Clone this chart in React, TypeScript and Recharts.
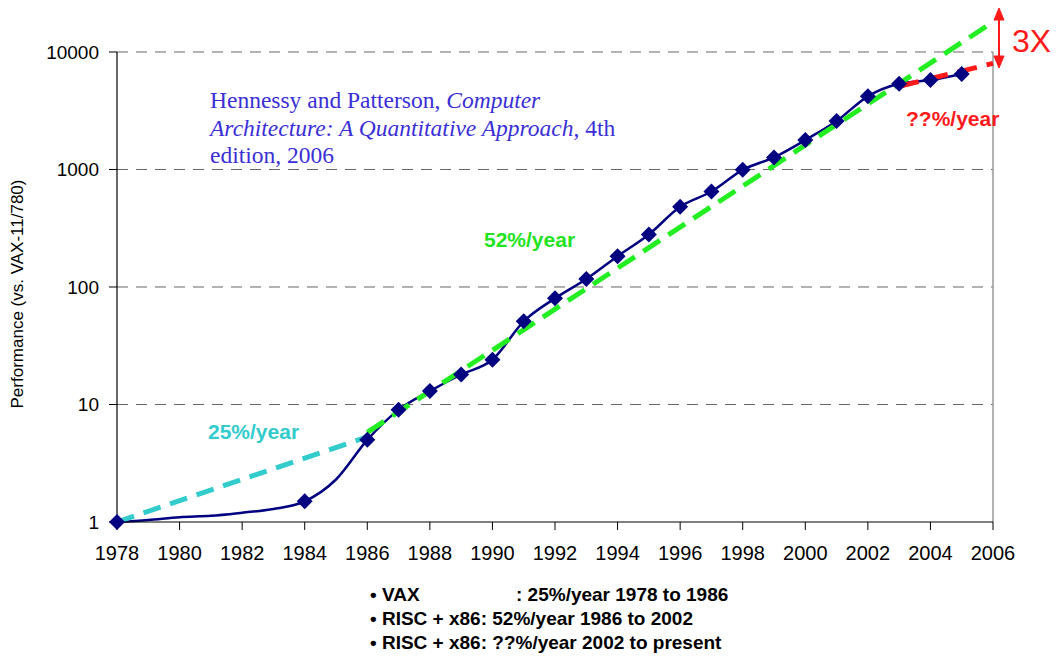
import React from "react";
import {
  LineChart,
  Line,
  XAxis,
  YAxis,
  ReferenceLine
} from "recharts";

// measured performance relative to VAX-11/780
const years = [
  1978, 1979, 1980, 1981, 1982, 1983, 1984, 1985, 1986, 1987, 1988, 1989, 1990, 1991,
  1992, 1993, 1994, 1995, 1996, 1997, 1998, 1999, 2000, 2001, 2002, 2003, 2004, 2005
];
const perf = [
  1, 1.04, 1.1, 1.13, 1.2, 1.29, 1.5, 2.3, 5, 9, 13, 18, 24, 51,
  80, 117, 183, 280, 481, 649, 993, 1267, 1779, 2584, 4195, 5364, 5764, 6505
];
// years that get a diamond marker
const markedYears = [
  1978, 1984, 1986, 1987, 1988, 1989, 1990, 1991, 1992, 1993, 1994, 1995, 1996, 1997,
  1998, 1999, 2000, 2001, 2002, 2003, 2004, 2005
];

// trend lines
const vaxTrend = [
  { year: 1978, v: 1 },
  { year: 1986, v: 5.3 }
];
const riscTrend = [
  { year: 1986, v: 5.8 },
  { year: 2006, v: 18000 }
];
const recentTrend = [
  { year: 2003, v: 5100 },
  { year: 2006, v: 8000 }
];

const xTicks = [1978, 1980, 1982, 1984, 1986, 1988, 1990, 1992, 1994, 1996, 1998, 2000, 2002, 2004, 2006];
const yTicks = [1, 10, 100, 1000, 10000];
const gridValues = [10, 100, 1000, 10000];

const bullets = [
  "• RISC + x86: 52%/year 1986 to 2002",
  "• RISC + x86: ??%/year 2002 to present"
];

const data = years.map((y, i) => ({ year: y, perf: perf[i], mark: markedYears.includes(y) }));

const FONT = "'Liberation Sans', Arial, sans-serif";

const Diamond = (props: any) => {
  const { cx, cy, payload, index } = props;
  if (!payload || !payload.mark) return <g key={"d" + index} />;
  const r = 8;
  return (
    <path
      key={"d" + index}
      d={`M${cx},${cy - r}L${cx + r},${cy}L${cx},${cy + r}L${cx - r},${cy}Z`}
      fill="#000080"
    />
  );
};

export default function App() {
  return (
    <div style={{ position: "absolute", left: 0, top: 0, width: 1056, height: 657, background: "#fff" }}>
      <LineChart
        width={1056}
        height={657}
        data={data}
        margin={{ top: 10, right: 63, bottom: 95, left: 47 }}
      >
        <XAxis
          dataKey="year"
          type="number"
          domain={[1978, 2006]}
          ticks={xTicks}
          height={40}
          tickSize={8}
          tickMargin={16}
          axisLine={{ stroke: "#000" }}
          tickLine={{ stroke: "#000" }}
          tick={{ fill: "#000", fontSize: 20, fontFamily: FONT }}
        />
        <YAxis
          scale="log"
          domain={[1, 22760]}
          ticks={yTicks}
          width={70}
          axisLine={false}
          tickSize={8}
          tickMargin={10}
          tickLine={{ stroke: "#000" }}
          tick={{ fill: "#000", fontSize: 19, fontFamily: FONT }}
        />
        {gridValues.map((g) => (
          <ReferenceLine key={g} y={g} stroke="#666" strokeDasharray="11 8" />
        ))}
        <ReferenceLine segment={[{ x: 1978, y: 1 }, { x: 1978, y: 10000 }]} stroke="#000" strokeWidth={1.2} />
        <ReferenceLine segment={[{ x: 2006, y: 1 }, { x: 2006, y: 10000 }]} stroke="#999" strokeWidth={1.5} />

        <Line
          dataKey="perf"
          type="monotone"
          stroke="#000080"
          strokeWidth={2.5}
          dot={Diamond}
          activeDot={false}
          isAnimationActive={false}
        />

        <Line
          data={vaxTrend}
          dataKey="v"
          stroke="#33cccc"
          strokeWidth={5}
          strokeDasharray="18 10"
          dot={false}
          activeDot={false}
          isAnimationActive={false}
        />
        <Line
          data={riscTrend}
          dataKey="v"
          stroke="#22ee22"
          strokeWidth={5}
          strokeDasharray="20 10"
          dot={false}
          activeDot={false}
          isAnimationActive={false}
        />
        <Line
          data={recentTrend}
          dataKey="v"
          stroke="#ff1a1a"
          strokeWidth={5}
          strokeDasharray="20 10"
          dot={false}
          activeDot={false}
          isAnimationActive={false}
        />
      </LineChart>

      <svg
        width={1056}
        height={657}
        style={{ position: "absolute", left: 0, top: 0, pointerEvents: "none" }}
      >
        <text
          transform="translate(23,294) rotate(-90)"
          textAnchor="middle"
          fontSize={17}
          fontFamily={FONT}
          fill="#000"
        >
          Performance (vs. VAX-11/780)
        </text>

        <g fill="#3a2fd6" fontSize={23.5} fontFamily="'Liberation Serif', 'Times New Roman', serif">
          <text x={210} y={108}>
            Hennessy and Patterson, <tspan fontStyle="italic">Computer</tspan>
          </text>
          <text x={210} y={136}>
            <tspan fontStyle="italic">Architecture: A Quantitative Approach</tspan>, 4th
          </text>
          <text x={210} y={163}>edition, 2006</text>
        </g>

        <g fontFamily={FONT} fontWeight="bold" fontSize={21}>
          <text x={484} y={247} fill="#22e322">52%/year</text>
          <text x={208} y={439} fill="#33cccc">25%/year</text>
          <text x={906} y={126} fill="#ff1a1a">??%/year</text>
        </g>

        <g stroke="#ff1a1a" fill="#ff1a1a">
          <line x1={999} y1={18} x2={999} y2={58} strokeWidth={2} />
          <polygon points="999,8 994,20 1004,20" />
          <polygon points="999,68 994,56 1004,56" />
        </g>
        <text x={1012} y={52} fontSize={32} fontFamily={FONT} fill="#ff1a1a">3X</text>

        <g fontFamily={FONT} fontWeight="bold" fontSize={19} fill="#000">
          <text x={370} y={601}>• VAX</text>
          <text x={516} y={601}>: 25%/year 1978 to 1986</text>
          {bullets.map((b, i) => (
            <text key={b} x={370} y={625 + i * 24}>{b}</text>
          ))}
        </g>
      </svg>
    </div>
  );
}
